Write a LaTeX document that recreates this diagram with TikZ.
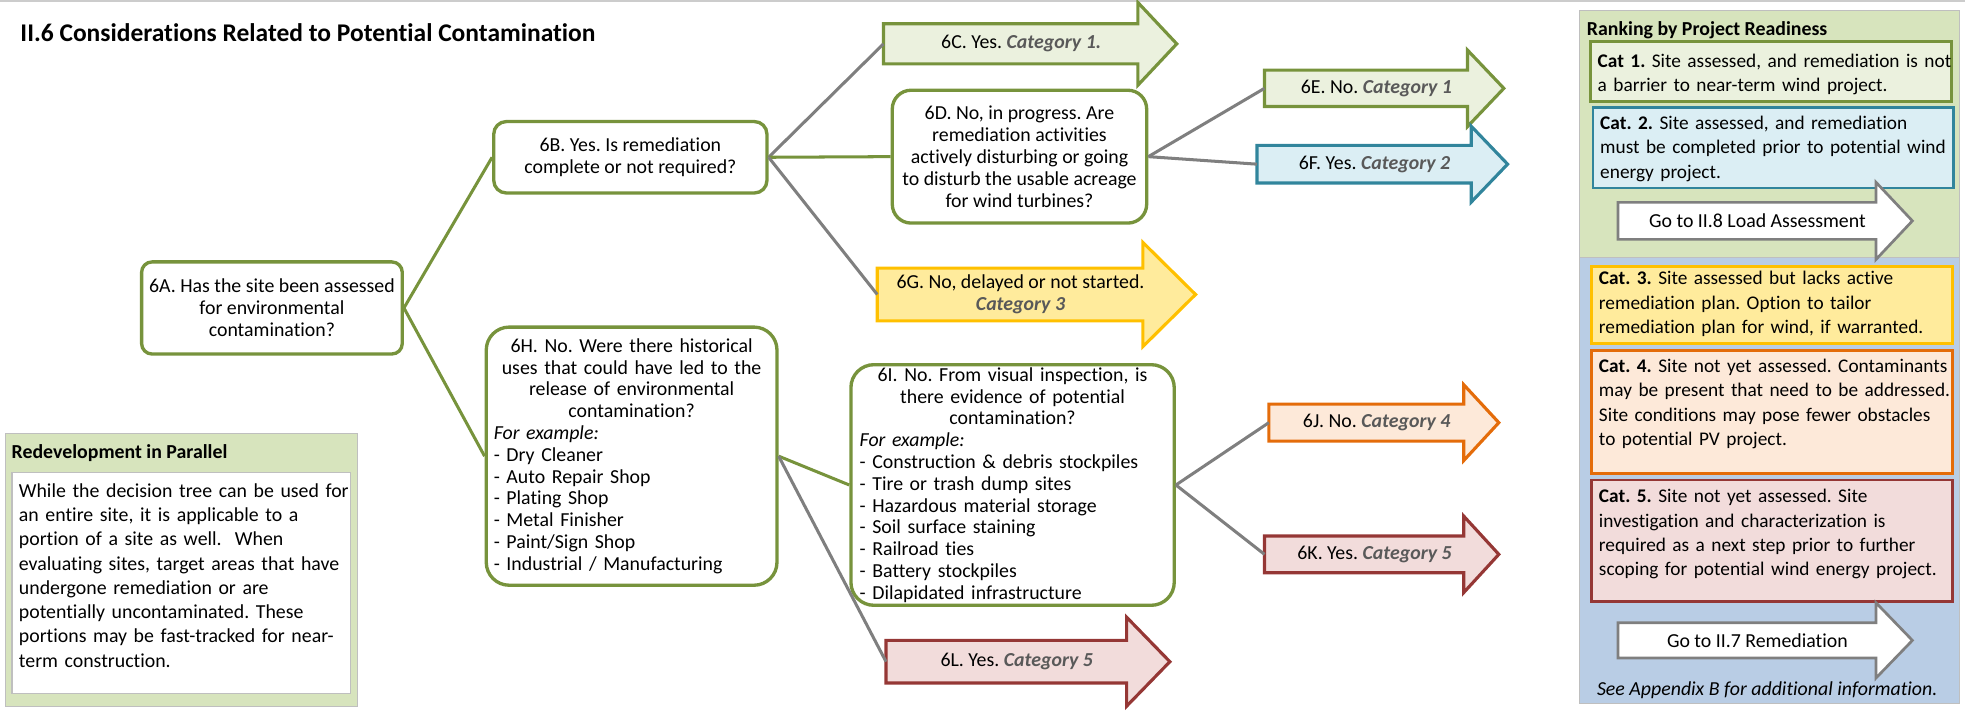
\documentclass[tikz,border=0pt]{standalone}
\usepackage{fontspec}
\setmainfont{Carlito}[Ligatures=NoCommon]
\definecolor{ogreen}{HTML}{77933C}
\definecolor{lgreen}{HTML}{EBF1DE}
\definecolor{pgreen}{HTML}{D7E4BD}
\definecolor{pblue}{HTML}{B9CDE5}
\definecolor{tealb}{HTML}{31859C}
\definecolor{lteal}{HTML}{DBEEF4}
\definecolor{gold}{HTML}{FFC000}
\definecolor{lgold}{HTML}{FFEB9C}
\definecolor{orng}{HTML}{E46C0A}
\definecolor{lorng}{HTML}{FDE9D9}
\definecolor{dred}{HTML}{953735}
\definecolor{lred}{HTML}{F2DCDB}
\definecolor{lgray}{HTML}{7F7F7F}
\definecolor{catgray}{HTML}{595959}
\definecolor{panelline}{HTML}{BFBFBF}
\frenchspacing
\newcommand\cat[1]{\textbf{\textit{\color{catgray}#1}}}
\newcommand\rowL[1]{\mbox{#1}}
\newcommand\rowC[1]{\makebox[\linewidth]{#1}}
\newcommand\qfont{\fontsize{9.5}{10.44}\selectfont}
\newcommand\cfont{\fontsize{9.25}{11.7}\selectfont}
\newcommand\rfont{\fontsize{9.5}{11.6}\selectfont}
\newcommand\bigarrow[9]{%
  \path[#2] (#3,#4-#5) -- (#6,#4-#5) -- (#6,#4-#8) -- (#7,#4) -- (#6,#4+#8) -- (#6,#4+#5) -- (#3,#4+#5) -- cycle;
  \node[arrtext, minimum width={(#6-#3+16)*0.6pt}] (#1) at (#3,#4) {#9};}
\tikzset{
  qbox/.style={draw=ogreen, line width=1.6pt, fill=white, align=center, font=\qfont, inner sep=2pt},
  arrtext/.style={anchor=west, inner sep=0pt, align=center, font=\qfont},
  arrbase/.style={line width=1.5pt, line join=miter},
  arrG/.style={arrbase, fill=lgreen, draw=ogreen},
  arrT/.style={arrbase, fill=lteal, draw=tealb},
  arrY/.style={arrbase, fill=lgold, draw=gold},
  arrO/.style={arrbase, fill=lorng, draw=orng},
  arrR/.style={arrbase, fill=lred, draw=dred},
  arrW/.style={line width=1.3pt, line join=miter, fill=white, draw=lgray},
  panel/.style={draw=panelline, line width=0.6pt, anchor=north west, inner sep=0pt},
  catbox/.style={anchor=north west, align=left, font=\cfont, line width=1.3pt, inner ysep=0pt, inner xsep=3.5pt, text width=165.8pt},
  heading/.style={anchor=base west, inner sep=0pt},
  gline/.style={draw=ogreen, line width=1.45pt},
  yline/.style={draw=lgray, line width=1.45pt}
}
\begin{document}
\begin{tikzpicture}[x=0.6pt,y=-0.6pt]
\useasboundingbox (0,0) rectangle (1568,567);
\draw[gray!40, line width=0.8pt] (0,0.7) -- (1568,0.7);

\node[heading, font=\fontsize{12.2}{14}\selectfont\bfseries] (title) at (16,33) {II.6 Considerations Related to Potential Contamination};

% question boxes
\node[qbox, rounded corners=5pt, minimum width=124.8pt, minimum height=44.1pt] (a) at (217,245.75)
  {6A. Has the site been assessed\\for environmental\\contamination?};
\node[qbox, rounded corners=6pt, minimum width=130.8pt, minimum height=34.2pt] (b) at (503,125.5)
  {6B. Yes. Is remediation\\complete or not required?};
\node[qbox, rounded corners=9pt, minimum width=121.8pt, minimum height=63.6pt] (d) at (813.5,125)
  {6D. No, in progress. Are\\remediation activities\\actively disturbing or going\\to disturb the usable acreage\\for wind turbines?};
\node[qbox, rounded corners=11pt, align=left, text width=132pt, inner xsep=3.6pt, inner ysep=0pt, minimum height=123.6pt] (h) at (504,364)
  {\rowC{6H. No. Were there historical}\\\rowC{uses that could have led to the}\\\rowC{release of environmental}\\\rowC{contamination?}\\\textit{For example:}\\- Dry Cleaner\\- Auto Repair Shop\\- Plating Shop\\- Metal Finisher\\- Paint/Sign Shop\\- Industrial / Manufacturing};
\node[qbox, rounded corners=11pt, align=left, text width=146.4pt, inner xsep=4.2pt, inner ysep=0pt, minimum height=115.2pt] (i) at (808,387)
  {\rowC{6I. No. From visual inspection, is}\\\rowC{there evidence of potential}\\\rowC{contamination?}\\\textit{For example:}\\- Construction \& debris stockpiles\\- Tire or trash dump sites\\- Hazardous material storage\\- Soil surface staining\\- Railroad ties\\- Battery stockpiles\\- Dilapidated infrastructure};

% outcome arrows
\bigarrow{c}{arrG}{705}{35}{16}{908}{939}{33}{6C. Yes. \cat{Category 1.}}
\bigarrow{e}{arrG}{1009}{70.5}{14.5}{1171}{1200}{30.5}{6E. No. \cat{Category 1}}
\bigarrow{f}{arrT}{1003}{131}{15}{1174}{1203}{30.25}{6F. Yes. \cat{Category 2}}
\bigarrow{g}{arrY}{700}{235}{21}{912}{954}{41.5}{6G. No, delayed or not started.\\\cat{Category 3}}
\bigarrow{j}{arrO}{1012.5}{337.25}{14.75}{1168}{1196}{30.25}{6J. No. \cat{Category 4}}
\bigarrow{k}{arrR}{1009}{442.35}{14.65}{1168}{1196}{30.5}{6K. Yes. \cat{Category 5}}
\bigarrow{l}{arrR}{707}{528}{17}{899}{933.5}{35.5}{6L. Yes. \cat{Category 5}}

% right panel
\node[panel, fill=pgreen, minimum width=181.8pt, minimum height=118.2pt] (pg) at (1260,8) {};
\node[panel, fill=pblue, minimum width=181.8pt, minimum height=213.6pt] (pb) at (1260,205) {};
\node[heading, font=\qfont\bfseries] (rank) at (1266,28) {Ranking by Project Readiness};
\node[catbox, draw=ogreen, fill=lgreen, text height=12.24pt, text depth=16.56pt] (c1) at (1268,32)
  {\rowL{\textbf{Cat 1.} Site assessed, and remediation is not}\\\rowL{a barrier to near-term wind project.}};
\node[catbox, draw=tealb, fill=lteal, text height=10.44pt, text depth=28.2pt] (c2) at (1270,84.6)
  {\rowL{\textbf{Cat. 2.} Site assessed, and remediation}\\\rowL{must be completed prior to potential wind}\\\rowL{energy project.}};
\bigarrow{go8}{arrW}{1291}{176.25}{14.75}{1497}{1526}{30.75}{Go to II.8 Load Assessment}
\node[catbox, draw=gold, fill=lgold, text height=8.7pt, text depth=28.2pt] (c3) at (1269,211.5)
  {\rowL{\textbf{Cat. 3.} Site assessed but lacks active}\\\rowL{remediation plan. Option to tailor}\\\rowL{remediation plan for wind, if warranted.}};
\node[catbox, draw=orng, fill=lorng, text height=10.5pt, text depth=48.3pt] (c4) at (1269,278.5)
  {\rowL{\textbf{Cat. 4.} Site not yet assessed. Contaminants}\\\rowL{may be present that need to be addressed.}\\\rowL{Site conditions may pose fewer obstacles}\\\rowL{to potential PV project.}};
\node[catbox, draw=dred, fill=lred, text height=10.8pt, text depth=47.4pt] (c5) at (1269,382)
  {\rowL{\textbf{Cat. 5.} Site not yet assessed. Site}\\\rowL{investigation and characterization is}\\\rowL{required as a next step prior to further}\\\rowL{scoping for potential wind energy project.}};
\bigarrow{go7}{arrW}{1291}{511}{14}{1497}{1526}{30}{Go to II.7 Remediation}
\node[heading, font=\qfont\itshape] (appx) at (1274,554.6) {See Appendix B for additional information.};

% redevelopment panel
\node[panel, fill=pgreen, minimum width=168.6pt, minimum height=130.5pt] (rp) at (4,345.5) {};
\node[heading, font=\qfont\bfseries] (rpt) at (9,365.6) {Redevelopment in Parallel};
\node[anchor=north west, draw=panelline, fill=white, line width=0.6pt, align=left, font=\rfont, text width=155.28pt, inner xsep=3.36pt, inner ysep=0pt, text height=11.94pt, text depth=93.9pt] (rtext) at (9,376.6)
  {\rowL{While the decision tree can be used for}\\\rowL{an entire site, it is applicable to a}\\\rowL{portion of a site as well.\ \ When}\\\rowL{evaluating sites, target areas that have}\\\rowL{undergone remediation or are}\\\rowL{potentially uncontaminated. These}\\\rowL{portions may be fast-tracked for near-}\\\rowL{term construction.}};

% connectors
\draw[gline] (a.east) -- (b.west);
\draw[gline] (a.east) -- (h.west);
\draw[yline] (b.east) -- (c.west);
\draw[gline] (b.east) -- (d.west);
\draw[yline] (b.east) -- (g.west);
\draw[yline] (d.east) -- (e.west);
\draw[yline] (d.east) -- (f.west);
\draw[gline] (h.east) -- (i.west);
\draw[yline] (h.east) -- (l.west);
\draw[yline] (i.east) -- (j.west);
\draw[yline] (i.east) -- (k.west);
\end{tikzpicture}
\end{document}
